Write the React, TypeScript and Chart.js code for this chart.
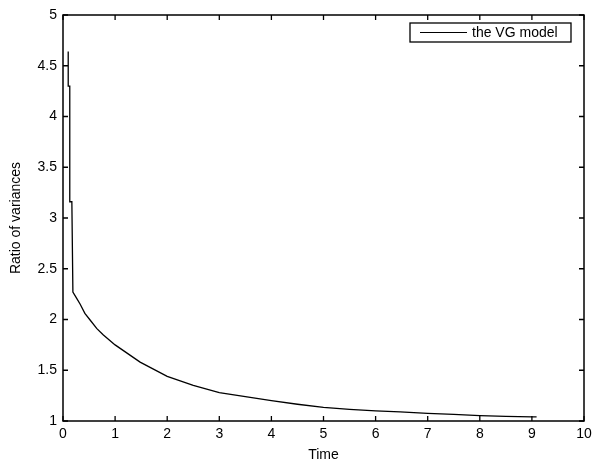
import React, { useEffect, useRef } from "react";
import { Chart, registerables } from "chart.js";

Chart.register(...registerables);

const seriesLabel = "the VG model";
const xTitle = "Time";
const yTitle = "Ratio of variances";
const times = [0.1, 0.1, 0.13, 0.13, 0.17, 0.19, 0.26, 0.33, 0.42, 0.52, 0.65, 0.77, 1.0, 1.48, 2.0, 2.5, 3.0, 3.5, 4.0, 4.5, 5.0, 5.5, 6.0, 6.47, 7.0, 7.5, 8.0, 8.5, 9.0, 9.09];
const ratios = [4.64, 4.3, 4.3, 3.16, 3.16, 2.27, 2.21, 2.15, 2.06, 1.995, 1.91, 1.85, 1.75, 1.58, 1.44, 1.35, 1.28, 1.24, 1.2, 1.165, 1.135, 1.115, 1.1, 1.09, 1.076, 1.065, 1.053, 1.045, 1.04, 1.04];
const xTicks = [0, 1, 2, 3, 4, 5, 6, 7, 8, 9, 10];
const yTicks = [1, 1.5, 2, 2.5, 3, 3.5, 4, 4.5, 5];

const FONT = "'Liberation Sans', Arial, Helvetica, sans-serif";

const framePlugin = {
  id: "matlabFrame",
  afterDatasetsDraw(chart: any) {
    const { ctx, chartArea } = chart;
    const { left, right, top, bottom } = chartArea;
    const xs = chart.scales.x;
    const ys = chart.scales.y;
    ctx.save();
    ctx.strokeStyle = "#000";
    ctx.lineWidth = 1.5;
    ctx.strokeRect(left, top, right - left, bottom - top);
    ctx.lineWidth = 1.3;
    const tl = 5;
    ctx.beginPath();
    xTicks.forEach((v) => {
      const p = xs.getPixelForValue(v);
      ctx.moveTo(p, bottom);
      ctx.lineTo(p, bottom - tl);
      ctx.moveTo(p, top);
      ctx.lineTo(p, top + tl);
    });
    yTicks.forEach((v) => {
      const p = ys.getPixelForValue(v);
      ctx.moveTo(left, p);
      ctx.lineTo(left + tl, p);
      ctx.moveTo(right, p);
      ctx.lineTo(right - tl, p);
    });
    ctx.stroke();

    // legend box
    const bx = right - 174;
    const by = top + 8;
    const bw = 161;
    const bh = 19;
    ctx.fillStyle = "#fff";
    ctx.fillRect(bx, by, bw, bh);
    ctx.lineWidth = 1.3;
    ctx.strokeRect(bx, by, bw, bh);
    ctx.lineWidth = 1;
    ctx.beginPath();
    ctx.moveTo(bx + 10, by + bh / 2);
    ctx.lineTo(bx + 57, by + bh / 2);
    ctx.stroke();
    ctx.fillStyle = "#000";
    ctx.font = `14px ${FONT}`;
    ctx.textBaseline = "middle";
    ctx.textAlign = "left";
    ctx.fillText(chart.data.datasets[0].label, bx + 62, by + bh / 2 + 1);
    ctx.restore();
  },
};

export default function App() {
  const ref = useRef<HTMLCanvasElement | null>(null);
  useEffect(() => {
    if (!ref.current) return;
    const chart = new Chart(ref.current, {
      type: "line",
      data: {
        datasets: [
          {
            label: seriesLabel,
            data: times.map((t, i) => ({ x: t, y: ratios[i] })),
            borderColor: "#000",
            borderWidth: 1.3,
            pointRadius: 0,
            fill: false,
            tension: 0,
          },
        ],
      },
      options: {
        animation: false,
        responsive: false,
        devicePixelRatio: 1,
        layout: { padding: { left: 0, top: 15, right: 9, bottom: 0 } },
        plugins: { legend: { display: false }, tooltip: { enabled: false } },
        scales: {
          x: {
            type: "linear",
            min: 0,
            max: 10,
            afterBuildTicks: (s: any) => {
              s.ticks = xTicks.map((v) => ({ value: v }));
            },
            afterFit: (s: any) => {
              s.height = 43;
              s.paddingLeft = 0;
              s.paddingRight = 0;
            },
            grid: { display: false, drawTicks: false },
            border: { display: false },
            ticks: {
              color: "#000",
              padding: 5,
              font: { family: FONT, size: 14 },
              callback: (v: any) => String(v),
              maxRotation: 0,
            },
            title: {
              display: true,
              text: xTitle,
              color: "#000",
              font: { family: FONT, size: 14 },
              padding: { top: 0, bottom: 0 },
            },
          },
          y: {
            type: "linear",
            min: 1,
            max: 5,
            afterBuildTicks: (s: any) => {
              s.ticks = yTicks.map((v) => ({ value: v }));
            },
            afterFit: (s: any) => {
              s.width = 63;
              s.paddingTop = 0;
              s.paddingBottom = 0;
            },
            grid: { display: false, drawTicks: false },
            border: { display: false },
            ticks: {
              color: "#000",
              padding: 6,
              font: { family: FONT, size: 14 },
              callback: (v: any) => String(v),
            },
            title: {
              display: true,
              text: yTitle,
              color: "#000",
              font: { family: FONT, size: 14 },
              padding: { top: 8, bottom: 0 },
            },
          },
        },
      },
      plugins: [framePlugin],
    });
    return () => chart.destroy();
  }, []);
  return (
    <div style={{ position: "absolute", left: 0, top: 0, width: 593, height: 464, background: "#fff" }}>
      <canvas ref={ref} width={593} height={464} style={{ display: "block" }} />
    </div>
  );
}
